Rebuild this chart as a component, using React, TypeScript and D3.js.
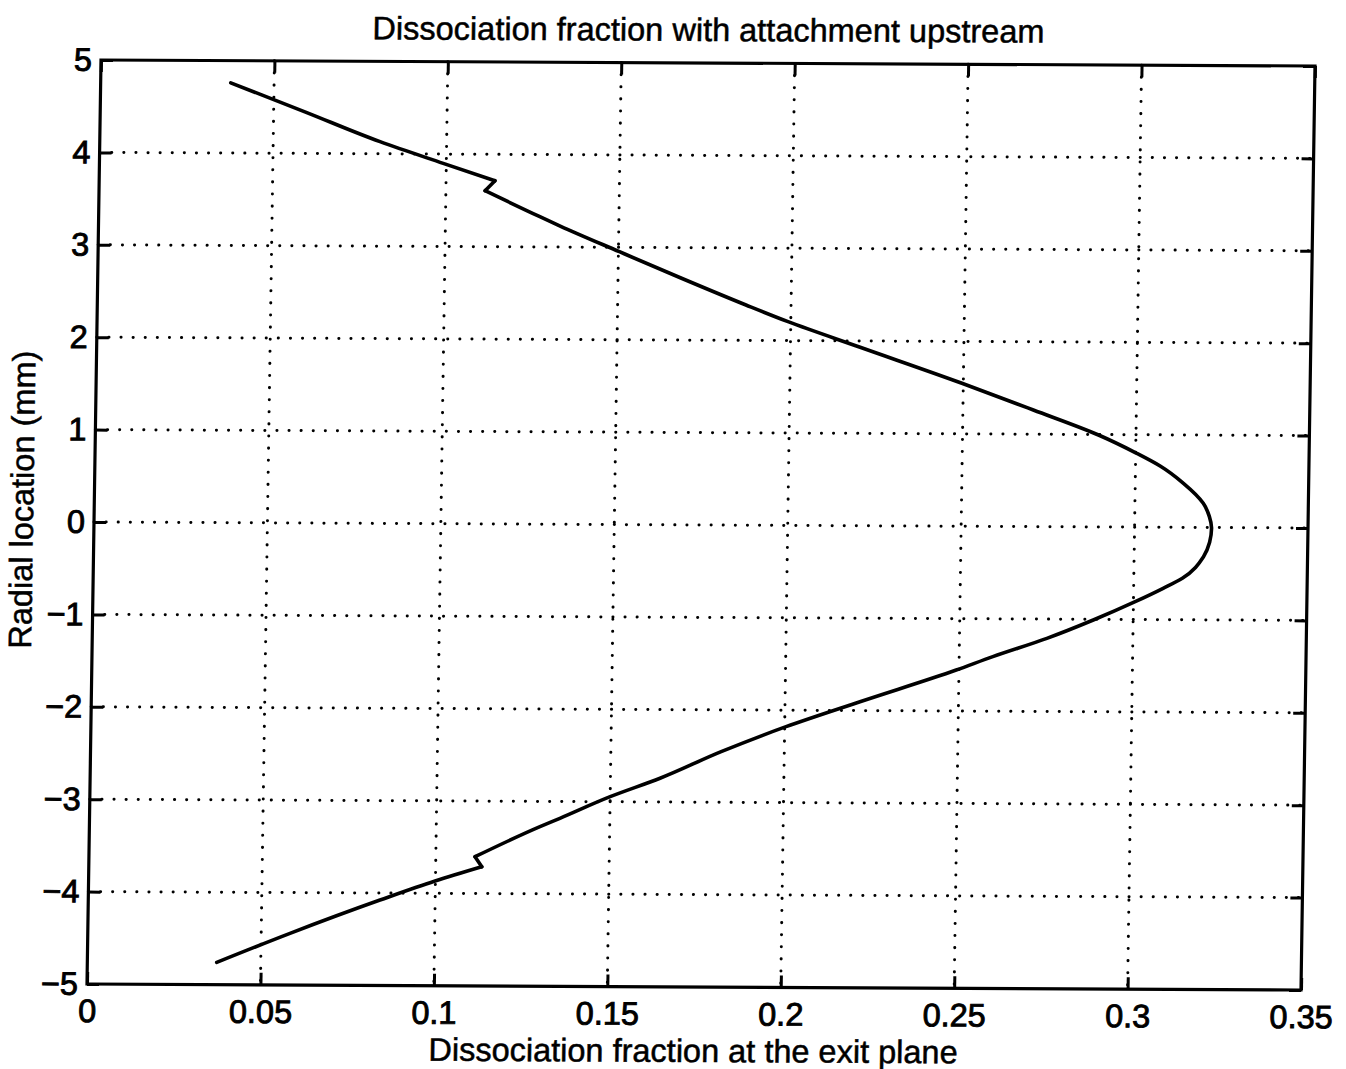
import * as d3 from "d3";
import { useEffect, useRef } from "react";

// curve, top to bottom
const radialMm = [
  4.76, 4.45, 4.131, 3.9, 3.714, 3.606, 3.328, 3.228, 2.953, 2.669, 2.383,
  2.205, 1.932, 1.548, 1.262, 0.995, 0.799, 0.663, 0.477, 0.262, 0.12, -0.009,
  -0.16, -0.316, -0.55, -0.66, -0.806, -1.007, -1.208, -1.409, -1.556, -1.904,
  -2.178, -2.452, -2.743, -2.945, -3.182, -3.273, -3.602, -3.71, -3.867,
  -4.076, -4.441, -4.759,
];
const dissocFraction = [
  0.0375, 0.059, 0.0808, 0.0991, 0.1141, 0.1113, 0.1272, 0.1331, 0.1503,
  0.1683, 0.187, 0.1992, 0.2201, 0.2496, 0.2703, 0.2892, 0.3003, 0.3071,
  0.3139, 0.3197, 0.3215, 0.3222, 0.3217, 0.32, 0.314, 0.3085, 0.3005, 0.2885,
  0.2752, 0.2597, 0.2492, 0.2216, 0.2004, 0.1818, 0.1643, 0.15, 0.1356, 0.1299,
  0.1113, 0.1133, 0.0999, 0.0841, 0.0583, 0.0373,
];
// the two little steps in the profile are straight jumps
const stepStarts = [3.714, -3.602];

const xTicks = [0, 0.05, 0.1, 0.15, 0.2, 0.25, 0.3, 0.35];
const xTickLabels = ["0", "0.05", "0.1", "0.15", "0.2", "0.25", "0.3", "0.35"];
const yTicks = [-5, -4, -3, -2, -1, 0, 1, 2, 3, 4, 5];
const yTickLabels = ["−5", "−4", "−3", "−2", "−1", "0", "1", "2", "3", "4", "5"];

const title = "Dissociation fraction with attachment upstream";
const xLabel = "Dissociation fraction at the exit plane";
const yLabel = "Radial location (mm)";

const W = 1214;
const H = 924;
const FONT = "'Liberation Sans', Arial, Helvetica, sans-serif";

const App = () => {
  const ref = useRef<SVGSVGElement>(null);

  useEffect(() => {
    if (!ref.current) return;
    const svg = d3.select(ref.current);
    svg.selectAll("*").remove();

    svg.append("rect").attr("width", 1346).attr("height", 1069).attr("fill", "#fff");

    // the scan is slightly sheared, so the whole plot is too
    const g = svg
      .append("g")
      .attr("transform", "matrix(1,0.00494,-0.01515,1,101,60)");

    const x = d3.scaleLinear().domain([0, 0.35]).range([0, W]);
    const y = d3.scaleLinear().domain([-5, 5]).range([H, 0]);

    // dotted grid
    const grid = g.append("g").attr("stroke", "#000").attr("stroke-width", 3)
      .attr("stroke-linecap", "round").attr("stroke-dasharray", "0.1 12");
    xTicks.slice(1, -1).forEach((t) => {
      grid.append("line").attr("x1", x(t)).attr("x2", x(t)).attr("y1", 0).attr("y2", H);
    });
    yTicks.slice(1, -1).forEach((t) => {
      grid.append("line").attr("x1", 0).attr("x2", W).attr("y1", y(t)).attr("y2", y(t));
    });

    const fmtX = (d: d3.NumberValue) => xTickLabels[xTicks.indexOf(+d)];
    const fmtY = (d: d3.NumberValue) => yTickLabels[yTicks.indexOf(+d)];

    const styleAxis = (sel: d3.Selection<SVGGElement, unknown, null, undefined>) => {
      sel.select(".domain").remove();
      sel.selectAll(".tick line").attr("stroke", "#000").attr("stroke-width", 3);
      sel.selectAll(".tick text").attr("fill", "#000").attr("stroke", "#000")
        .attr("stroke-width", 0.9);
      sel.attr("font-family", FONT).attr("font-size", 32.5);
    };

    g.append("g").attr("transform", `translate(0,${H})`)
      .call(d3.axisBottom(x).tickValues(xTicks).tickFormat(fmtX).tickSize(-12).tickPadding(15))
      .call(styleAxis);
    g.append("g")
      .call(d3.axisTop(x).tickValues(xTicks).tickFormat(() => "").tickSize(-12))
      .call(styleAxis);
    g.append("g")
      .call(d3.axisLeft(y).tickValues(yTicks).tickFormat(fmtY).tickSize(-12).tickPadding(9))
      .call(styleAxis);
    g.append("g").attr("transform", `translate(${W},0)`)
      .call(d3.axisRight(y).tickValues(yTicks).tickFormat(() => "").tickSize(-12))
      .call(styleAxis);

    // frame
    g.append("rect").attr("width", W).attr("height", H).attr("fill", "none")
      .attr("stroke", "#000").attr("stroke-width", 3.2);

    // curve: smooth pieces between the steps, straight lines across the steps
    const pts = radialMm.map((r, i) => [dissocFraction[i], r] as [number, number]);
    const cuts = stepStarts.map((s) => radialMm.indexOf(s));
    const pieces: [number, number][][] = [];
    let from = 0;
    cuts.forEach((c) => {
      pieces.push(pts.slice(from, c + 1));
      pieces.push(pts.slice(c, c + 2));
      from = c + 1;
    });
    pieces.push(pts.slice(from));

    const smooth = d3.line<[number, number]>()
      .x((d) => x(d[0]))
      .y((d) => y(d[1]))
      .curve(d3.curveMonotoneY);
    g.append("g")
      .selectAll("path")
      .data(pieces)
      .join("path")
      .attr("d", (d) => smooth(d))
      .attr("fill", "none")
      .attr("stroke", "#000")
      .attr("stroke-width", 3.6)
      .attr("stroke-linejoin", "round")
      .attr("stroke-linecap", "round");

    // labels
    const label = (t: string) =>
      g.append("text").attr("text-anchor", "middle").attr("font-family", FONT)
        .attr("font-size", 32.5).attr("fill", "#000").attr("stroke", "#000")
        .attr("stroke-width", 0.5).text(t);
    label(title).attr("x", W / 2).attr("y", -22);
    label(xLabel).attr("x", W / 2).attr("y", H + 75);
    label(yLabel).attr("transform", `translate(-61,440) rotate(-90)`);
  }, []);

  return (
    <svg
      ref={ref}
      width={1346}
      height={1069}
      style={{ position: "absolute", left: 0, top: 0 }}
    />
  );
};

export default App;
